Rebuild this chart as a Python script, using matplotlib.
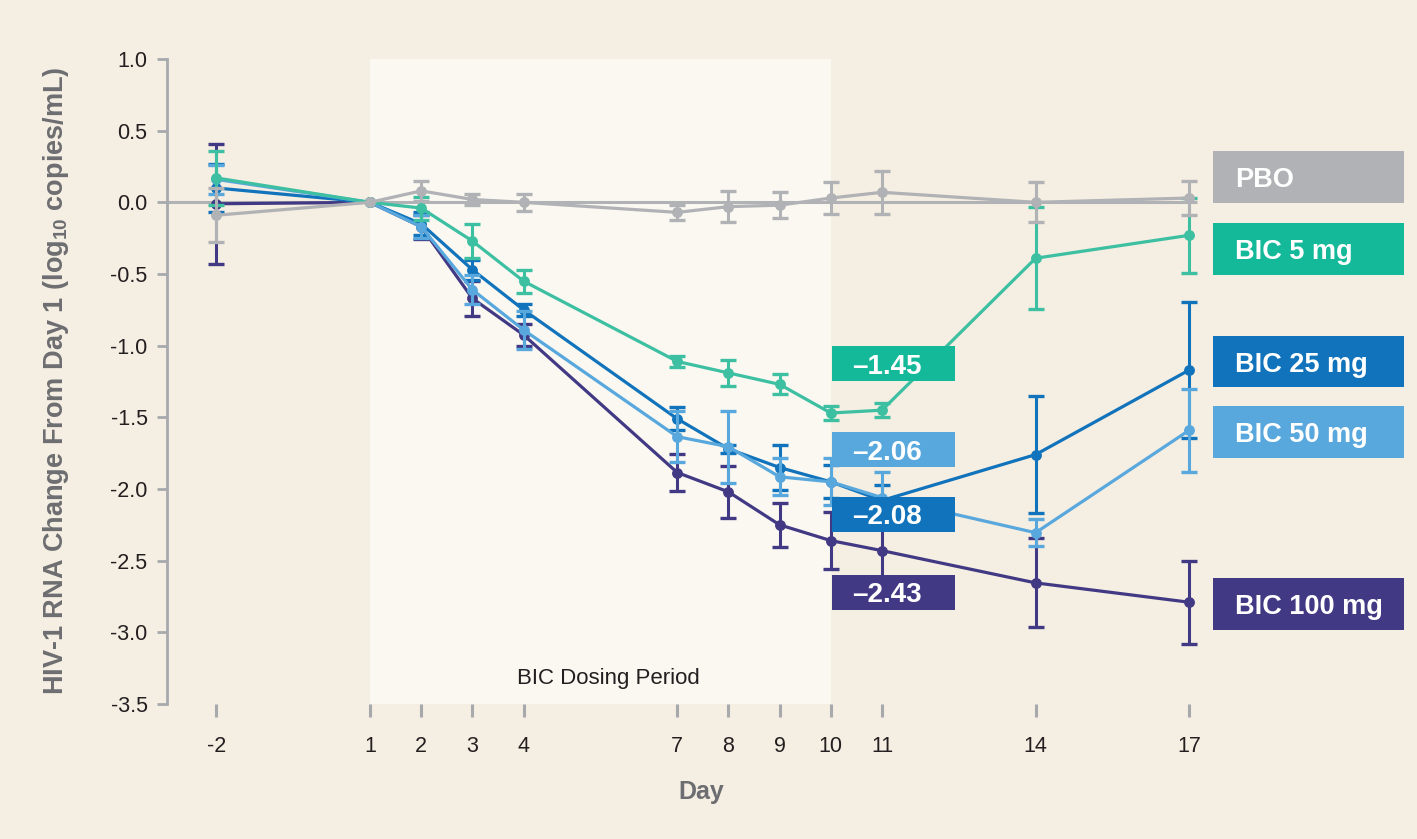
import matplotlib
matplotlib.use("Agg")
import matplotlib.pyplot as plt
from matplotlib.patches import Rectangle
import numpy as np

plt.rcParams['font.family'] = ['Liberation Sans', 'DejaVu Sans']
plt.rcParams['axes.unicode_minus'] = False
plt.rcParams['mathtext.fontset'] = 'custom'
plt.rcParams['mathtext.rm'] = 'Liberation Sans:bold'
plt.rcParams['mathtext.default'] = 'rm'

# ---------------- data ----------------
days = [-2, 1, 2, 3, 4, 7, 8, 9, 10, 11, 14, 17]

pbo = [-0.09, 0.0, 0.08, 0.02, 0.0, -0.07, -0.03, -0.02, 0.03, 0.07, 0.0, 0.03]
pbo_err = [0.19, 0, 0.07, 0.04, 0.06, 0.05, 0.11, 0.09, 0.11, 0.15, 0.14, 0.12]

bic5 = [0.17, 0.0, -0.04, -0.27, -0.55, -1.11, -1.19, -1.27, -1.47, -1.45, -0.39, -0.23]
bic5_err = [0.19, 0, 0.08, 0.12, 0.08, 0.04, 0.09, 0.07, 0.05, 0.05, 0.355, 0.26]

bic25 = [0.10, 0.0, -0.15, -0.47, -0.75, -1.51, -1.72, -1.85, -1.95, -2.08, -1.76, -1.17]
bic25_err = [0.17, 0, 0.08, 0.07, 0.04, 0.08, 0.03, 0.16, 0.115, 0.11, 0.41, 0.475]

bic50 = [0.16, 0.0, -0.17, -0.61, -0.89, -1.635, -1.705, -1.915, -1.95, -2.06, -2.305, -1.59]
bic50_err = [0.10, 0, 0.08, 0.10, 0.13, 0.18, 0.25, 0.13, 0.165, 0.18, 0.095, 0.29]

bic100 = [-0.01, 0.0, -0.17, -0.67, -0.925, -1.885, -2.02, -2.25, -2.36, -2.43, -2.655, -2.79]
bic100_err = [0.42, 0, 0.085, 0.12, 0.075, 0.13, 0.18, 0.155, 0.20, 0.20, 0.31, 0.29]

series_names = ["PBO", "BIC 5 mg", "BIC 25 mg", "BIC 50 mg", "BIC 100 mg"]
day11_labels = ["\u20131.45", "\u20132.06", "\u20132.08", "\u20132.43"]
yticks = [1.0, 0.5, 0.0, -0.5, -1.0, -1.5, -2.0, -2.5, -3.0, -3.5]

# ---------------- style ----------------
BG = '#f5eee2'
SHADE = '#faf8f1'
AXIS_GRAY = '#a7a9ac'
TXT = '#231f20'
LBL = '#6d6e71'
c_pbo = '#b1b2b5'
c5_line, c5_box = '#3dbfa2', '#14b99a'
c25 = '#1173bb'
c50 = '#58a8de'
c100 = '#423984'

W, H = 1417, 839
fig = plt.figure(figsize=(W / 100, H / 100), dpi=100, facecolor=BG)

left_px, right_px, top_px, bot_px = 167, 1404, 59, 704
ax = fig.add_axes([left_px / W, 1 - bot_px / H, (right_px - left_px) / W, (bot_px - top_px) / H])
ax.set_facecolor(BG)

px_per_day = 51.2
day1_px = 370
xmin = 1 - (day1_px - left_px) / px_per_day
xmax = 1 + (right_px - day1_px) / px_per_day
ax.set_xlim(xmin, xmax)
ax.set_ylim(-3.5, 1.0)

# dosing period shading
ax.axvspan(1, 10, color=SHADE, zorder=0, lw=0)
ax.text(5.65, -3.32, "BIC Dosing Period", ha='center', va='center', fontsize=16, color=TXT, zorder=1)

# zero line
ax.plot([xmin, 17.15], [0, 0], color=c_pbo, lw=2.2, zorder=1, solid_capstyle='butt')

def draw(vals, errs, line_c, z, err_c=None):
    err_c = err_c or line_c
    ax.plot(days, vals, color=line_c, lw=2.3, marker='o', markersize=6.8, zorder=z,
            solid_capstyle='round')
    d = [x for x, e in zip(days, errs) if e > 0]
    v = [y for y, e in zip(vals, errs) if e > 0]
    e = [e for e in errs if e > 0]
    ax.errorbar(d, v, yerr=e, fmt='none', ecolor=err_c, elinewidth=2.2, capsize=6,
                capthick=2.4, zorder=z)

draw(bic100, bic100_err, c100, 3)
draw(bic25, bic25_err, c25, 4)
draw(bic50, bic50_err, c50, 5)
draw(bic5, bic5_err, c5_line, 6)
draw(pbo, pbo_err, c_pbo, 7)

# spines / ticks
for s in ['top', 'right', 'bottom']:
    ax.spines[s].set_visible(False)
ax.spines['left'].set_color(AXIS_GRAY)
ax.spines['left'].set_linewidth(2)
ax.spines['left'].set_bounds(-3.5, 1.0)

ax.set_yticks(yticks)
ax.set_yticklabels([f"{t:.1f}" for t in yticks])
ax.set_xticks(days)
ax.set_xticklabels([str(d) for d in days])
ax.tick_params(axis='y', length=7, width=2, color=AXIS_GRAY, pad=7, labelsize=15.5, labelcolor=TXT)
ax.tick_params(axis='x', length=9, width=2.2, color=AXIS_GRAY, pad=14, labelsize=15.5, labelcolor=TXT)

fig.text(56 / W, 1 - 381 / H, r"HIV-1 RNA Change From Day 1 (log$_{10}$ copies/mL)",
         rotation=90, ha='center', va='center', fontsize=19.5, fontweight='bold', color=LBL)
fig.text(701 / W, 1 - 792 / H, "Day", ha='center', va='center', fontsize=18,
         fontweight='bold', color=LBL)

# label boxes (pixel layout)
def box(x0, y0, x1, y1, color, text, tx, fs):
    fig.add_artist(Rectangle((x0 / W, 1 - y1 / H), (x1 - x0) / W, (y1 - y0) / H,
                             transform=fig.transFigure, facecolor=color, edgecolor='none', zorder=10))
    fig.text(tx / W, 1 - ((y0 + y1) / 2) / H, text, ha='left', va='center_baseline',
             fontsize=fs, fontweight='bold', color='white', zorder=11)

right_boxes = [(151, 203, c_pbo), (223, 275, c5_box), (336, 387, c25), (406, 458, c50), (578, 630, c100)]
for (y0, y1, c), name in zip(right_boxes, series_names):
    box(1213, y0, 1404, y1, c, name, 1235, 19.5)

value_boxes = [(346, 381, c5_box), (432, 467, c50), (497, 532, c25), (575, 610, c100)]
for (y0, y1, c), lab in zip(value_boxes, day11_labels):
    box(832, y0, 955, y1, c, lab, 852, 20)

fig.savefig("out.png", dpi=100, facecolor=BG)
